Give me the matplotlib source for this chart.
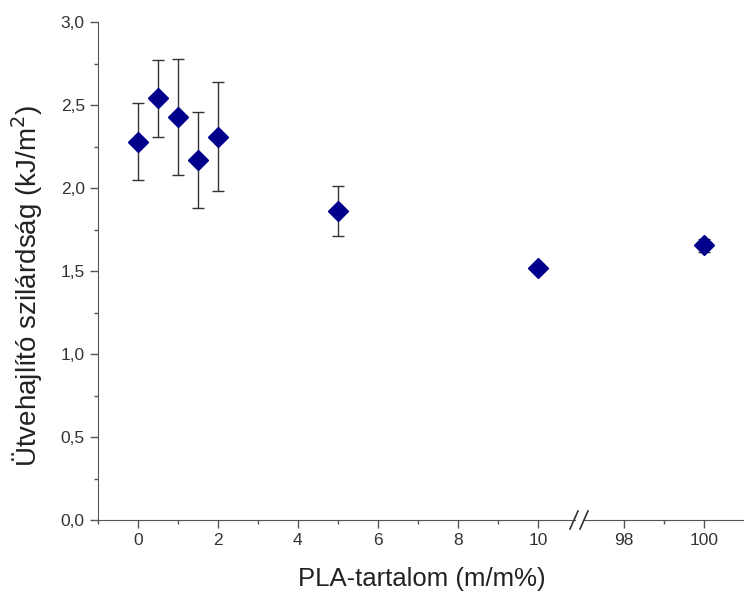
import numpy as np
import matplotlib.pyplot as plt
from matplotlib.ticker import FuncFormatter, MultipleLocator, FixedLocator

plt.rcParams['font.family'] = ['Liberation Sans', 'DejaVu Sans']

# PLA content (m/m%) and impact strength (kJ/m2)
pla = [0, 0.5, 1, 1.5, 2, 5, 10, 100]
strength = [2.28, 2.54, 2.43, 2.17, 2.31, 1.86, 1.52, 1.655]
err = [0.23, 0.23, 0.35, 0.29, 0.33, 0.15, 0.02, 0.04]

comma = FuncFormatter(lambda v, p: ('%.1f' % v).replace('.', ','))

fig = plt.figure(figsize=(7.44, 5.96), dpi=100)
bot, top = 76 / 596, 574 / 596
ax1 = fig.add_axes([98 / 744, bot, (575 - 98) / 744, top - bot])
ax2 = fig.add_axes([583 / 744, bot, (744 - 583) / 744, top - bot], sharey=ax1)

gray = '#555555'
for ax in (ax1, ax2):
    ax.errorbar(pla, strength, yerr=err, fmt='D', color='#00008B', ms=10,
                ecolor='#333333', elinewidth=1, capsize=4, capthick=1)
    for s in ('top', 'right'):
        ax.spines[s].set_visible(False)
    ax.spines['bottom'].set_color(gray)
    ax.spines['left'].set_color(gray)
    ax.tick_params(which='both', direction='out', colors=gray, labelcolor='#333333',
                   labelsize=12.5)
    ax.tick_params(which='major', length=6, width=1)
    ax.tick_params(which='minor', length=3, width=1)
    ax.patch.set_alpha(0)

ax1.set_xlim(-1, 10.93)
ax1.set_ylim(0, 3.0)
ax1.xaxis.set_major_locator(MultipleLocator(2))
ax1.xaxis.set_minor_locator(MultipleLocator(1))
ax1.yaxis.set_major_locator(MultipleLocator(0.5))
ax1.yaxis.set_minor_locator(MultipleLocator(0.25))
ax1.yaxis.set_major_formatter(comma)

ax2.set_xlim(96.98, 101.0)
ax2.xaxis.set_major_locator(FixedLocator([98, 100]))
ax2.xaxis.set_minor_locator(FixedLocator([99]))
ax2.spines['left'].set_visible(False)
ax2.tick_params(axis='y', which='both', left=False, labelleft=False)

# break marks
yb = bot
for xc in (574 / 744, 584 / 744):
    fig.add_artist(plt.Line2D([xc - 4 / 744, xc + 4 / 744], [yb - 9 / 596, yb + 9 / 596],
                              color='#333333', lw=1.2))

ax1.set_ylabel('Ütvehajlító szilárdság (kJ/m$^{2}$)', fontsize=20, color='#222222')
ax1.yaxis.set_label_coords(-0.112, 0.47)
fig.text(422 / 744, 17 / 596, 'PLA-tartalom (m/m%)', ha='center', va='center',
         fontsize=18.5, color='#222222')

plt.savefig('out.png', dpi=100)
